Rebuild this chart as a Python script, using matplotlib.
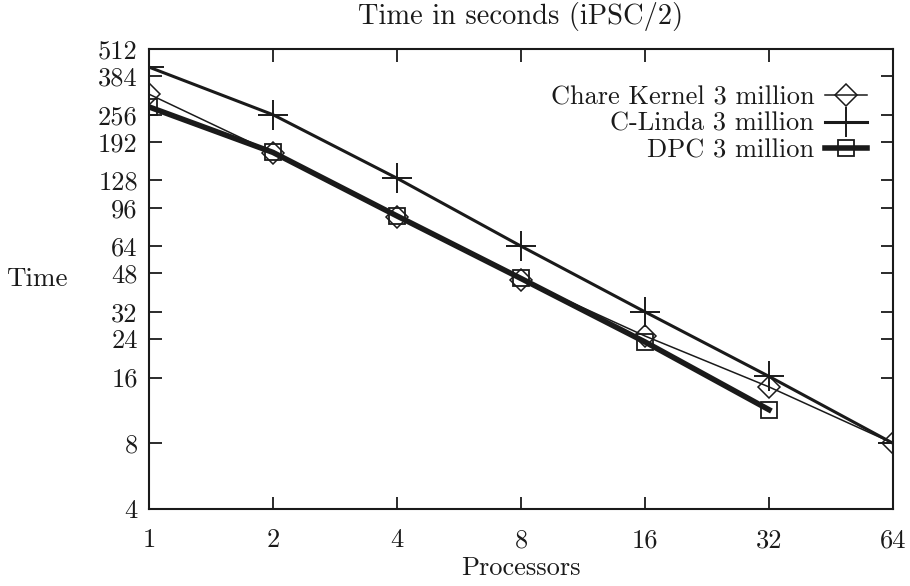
import matplotlib
matplotlib.use("Agg")
import matplotlib.pyplot as plt
from matplotlib.ticker import FixedLocator, FixedFormatter, NullLocator

plt.rcParams['font.family'] = ['cmr10', 'DejaVu Serif']
plt.rcParams['axes.formatter.use_mathtext'] = True

processors = [1, 2, 4, 8, 16, 32, 64]
chare_kernel = [318, 171, 87, 45, 24.8, 14.5, 8]
c_linda = [423, 256, 131, 64, 32, 16.2, 8]
dpc_procs = [1, 2, 4, 8, 16, 32]
dpc = [278, 172, 88, 45.5, 23.3, 11.4]

yticks = [4, 8, 16, 24, 32, 48, 64, 96, 128, 192, 256, 384, 512]
xticks = [1, 2, 4, 8, 16, 32, 64]

fig = plt.figure(figsize=(9.1, 5.86), dpi=100)
ax = fig.add_axes([0.1637, 0.1314, 0.8176, 0.785])
ink = '#1a1a1a'

ax.plot(processors, chare_kernel, color=ink, lw=1.1, marker='D', ms=11,
        mfc='none', mec=ink, mew=1.1, label='Chare Kernel 3 million')
ax.plot(processors, c_linda, color=ink, lw=2.2, marker='+', ms=22,
        mew=1.4, label='C-Linda 3 million')
ax.plot(dpc_procs, dpc, color=ink, lw=4.0, marker='s', ms=12,
        mfc='none', mec=ink, mew=1.3, label='DPC 3 million')

ax.set_xscale('log', base=2)
ax.set_yscale('log', base=2)
ax.set_xlim(1, 64)
ax.set_ylim(4, 512)
ax.xaxis.set_major_locator(FixedLocator(xticks))
ax.xaxis.set_major_formatter(FixedFormatter([str(v) for v in xticks]))
ax.xaxis.set_minor_locator(NullLocator())
ax.yaxis.set_major_locator(FixedLocator(yticks))
ax.yaxis.set_major_formatter(FixedFormatter([str(v) for v in yticks]))
ax.yaxis.set_minor_locator(NullLocator())

ax.tick_params(direction='in', length=9, width=1.3, top=True, right=True,
               labelsize=19, colors=ink)
ax.tick_params(axis='x', pad=14)
ax.tick_params(axis='y', pad=8)
for s in ax.spines.values():
    s.set_linewidth(1.5)
    s.set_color(ink)

ax.set_title('Time in seconds (iPSC/2)', fontsize=20.5, color=ink, pad=18)
ax.set_xlabel('Processors', fontsize=19, color=ink, labelpad=3)
ax.set_ylabel('Time', fontsize=19.5, color=ink, rotation=0, labelpad=44, va='center')

leg = ax.legend(loc='upper right', frameon=False, markerfirst=False,
                fontsize=19, handlelength=1.6, handletextpad=0.4,
                labelspacing=0.1, borderaxespad=0.0, borderpad=0.0,
                bbox_to_anchor=(0.965, 0.92))
for t in leg.get_texts():
    t.set_color(ink)
    t.set_ha('right')
leg._legend_box.align = 'right'

fig.savefig('out.png', dpi=100, facecolor='white')
